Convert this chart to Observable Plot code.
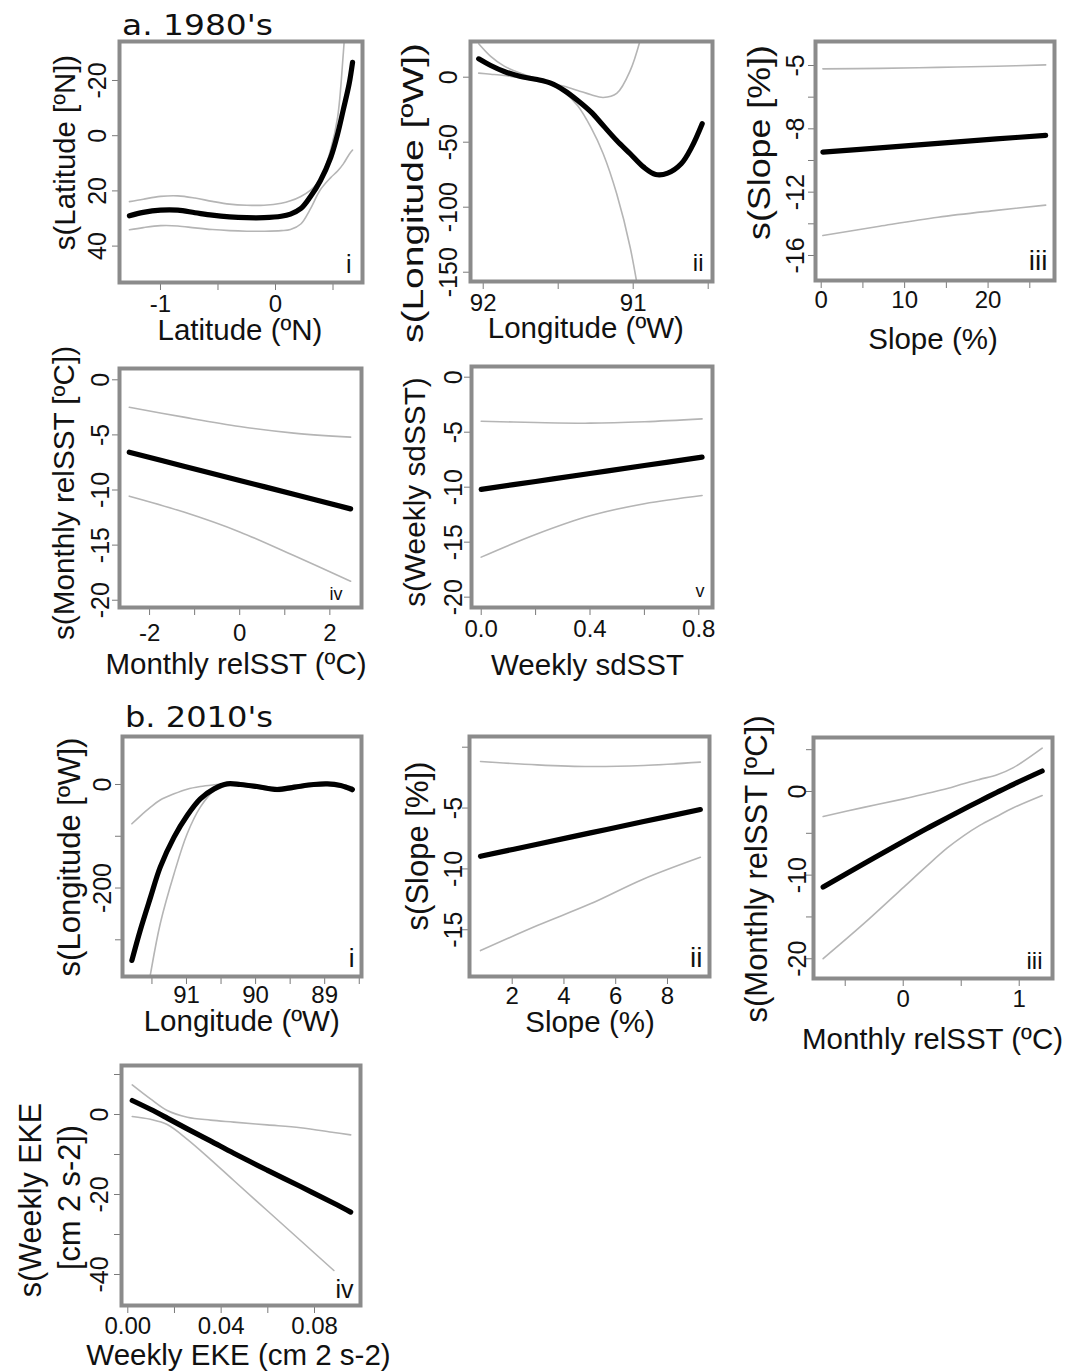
<!DOCTYPE html>
<html>
<head>
<meta charset="utf-8">
<script src="https://cdn.jsdelivr.net/npm/d3@7"></script>
<script src="https://cdn.jsdelivr.net/npm/@observablehq/plot@0.6"></script>
<style>
  html, body { margin: 0; padding: 0; background: #fff; }
  #page { position: relative; width: 1075px; height: 1371px; overflow: hidden; background: #fff; }
  #page svg.panel { position: absolute; overflow: visible; }
  #overlay { position: absolute; left: 0; top: 0; pointer-events: none; }
</style>
</head>
<body>
<div id="page"></div>
<script>
// ---------------- DATA ----------------
// a. 1980's  (i) Latitude
const aiX     = [-1.27, -1.15, -1.0, -0.85, -0.7, -0.55, -0.4, -0.25, -0.1, 0.05, 0.13, 0.22, 0.3, 0.39, 0.48, 0.54, 0.59, 0.64, 0.67];
const aiFit   = [29.0, 27.8, 27.0, 27.0, 27.9, 28.8, 29.4, 29.7, 29.7, 29.2, 28.4, 26.4, 22.3, 16.3, 7.9, -0.6, -9.5, -18.7, -26.6];
const aiBandA = [23.9, 23.0, 22.0, 21.8, 22.6, 23.8, 24.8, 25.2, 25.2, 24.5, 23.6, 22.0, 19.9, 15.8, 5.0, -6.6, -30, -60, null];
const aiBandB = [34.1, 33.3, 32.6, 32.7, 33.4, 34.0, 34.4, 34.6, 34.6, 34.4, 34.0, 32.0, 26.8, 19.6, 15.2, 12.8, 10.2, 6.8, 5.2];
const aiXTicks = [-1, -0.5, 0, 0.5];        const aiXLabels = ["-1", "", "0", ""];
const aiYTicks = [-20, 0, 20, 40];          const aiYLabels = ["-20", "0", "20", "40"];

// a. (ii) Longitude (ºW)
const aiiX     = [92.03, 91.95, 91.86, 91.75, 91.64, 91.55, 91.46, 91.37, 91.28, 91.2, 91.11, 91.02, 90.93, 90.85, 90.77, 90.68, 90.61, 90.54];
const aiiFit   = [14.1, 9.0, 4.4, 0.5, -1.8, -4.6, -10.2, -17.9, -26.9, -37.2, -48.7, -58.9, -69.2, -74.8, -73.8, -66.6, -53.8, -35.8];
const aiiBandA = [25.7, 16.0, 8.5, 3.0, -1.2, -4.6, -11.5, -22.0, -39.0, -58.9, -89.7, -131.0, -190.0, null, null, null, null, null];
const aiiBandB = [3.1, 2.3, 1.3, -0.7, -2.9, -4.8, -7.0, -10.2, -13.5, -15.6, -12.5, 5.0, 38.5, null, null, null, null, null];
const aiiXTicks = [92, 91.5, 91, 90.5];     const aiiXLabels = ["92", "", "91", ""];
const aiiYTicks = [0, -50, -100, -150];     const aiiYLabels = ["0", "-50", "-100", "-150"];

// a. (iii) Slope
const aiiiX     = [0.2, 7, 14, 21, 26.9];
const aiiiFit   = [-9.47, -9.20, -8.92, -8.64, -8.41];
const aiiiBandA = [-4.21, -4.18, -4.12, -4.05, -3.96];
const aiiiBandB = [-14.74, -14.15, -13.58, -13.15, -12.82];
const aiiiXTicks = [0, 5, 10, 15, 20, 25];  const aiiiXLabels = ["0", "", "10", "", "20", ""];
const aiiiYTicks = [-4, -6, -8, -10, -12, -14, -16];
const aiiiYLabels = ["-5", "", "-8", "", "-12", "", "-16"];

// a. (iv) Monthly relSST
const aivX     = [-2.45, -1.24, 0, 1.2, 2.46];
const aivFit   = [-6.57, -7.84, -9.13, -10.39, -11.71];
const aivBandA = [-2.49, -3.39, -4.24, -4.84, -5.2];
const aivBandB = [-10.56, -12.0, -13.8, -15.95, -18.27];
const aivXTicks = [-2, -1, 0, 1, 2];        const aivXLabels = ["-2", "", "0", "", "2"];
const aivYTicks = [0, -5, -10, -15, -20];   const aivYLabels = ["0", "-5", "-10", "-15", "-20"];

// a. (v) Weekly sdSST
const avX     = [0.0, 0.2, 0.4, 0.6, 0.812];
const avFit   = [-10.2, -9.48, -8.76, -8.03, -7.27];
const avBandA = [-4.0, -4.12, -4.18, -4.05, -3.79];
const avBandB = [-16.36, -14.3, -12.6, -11.5, -10.75];
const avXTicks = [0, 0.2, 0.4, 0.6, 0.8];   const avXLabels = ["0.0", "", "0.4", "", "0.8"];
const avYTicks = [0, -5, -10, -15, -20];    const avYLabels = ["0", "-5", "-10", "-15", "-20"];

// b. 2010's  (i) Longitude (ºW)
const biX     = [91.79, 91.67, 91.52, 91.38, 91.18, 90.99, 90.8, 90.6, 90.41, 90.22, 89.98, 89.69, 89.44, 89.16, 88.96, 88.77, 88.6];
const biFit   = [-339.8, -281.9, -217.6, -159.6, -101.7, -59.8, -27.7, -8.4, 1.3, 0, -3.9, -9.7, -5.1, 0, 1.3, -1.9, -9.7];
const biBandA = [-75.9, -61, -43.8, -30, -18, -9, -3.9, -0.5, 2, 3, -1, -6, -2, 3, 4, 1, -5];
const biBandB = [null, -490, -365.5, -268.9, -172.4, -95.2, -43.8, -11.6, -1, -3, -7, -13.5, -8.5, -3, -1.5, -5, -14.5];
const biXTicks = [91.5, 91, 90.5, 90, 89.5, 89, 88.5];  const biXLabels = ["", "91", "", "90", "", "89", ""];
const biYTicks = [0, -100, -200, -300];     const biYLabels = ["0", "", "-200", ""];

// b. (ii) Slope
const biiX     = [0.776, 2.97, 5.02, 7.08, 9.27];
const biiFit   = [-8.96, -7.97, -7.04, -6.11, -5.12];
const biiBandA = [-1.17, -1.45, -1.59, -1.5, -1.23];
const biiBandB = [-16.71, -14.65, -12.87, -10.82, -9.04];
const biiXTicks = [2, 4, 6, 8];             const biiXLabels = ["2", "4", "6", "8"];
const biiYTicks = [0, -5, -10, -15];        const biiYLabels = ["", "-5", "-10", "-15"];

// b. (iii) Monthly relSST
const biiiX     = [-0.69, -0.34, 0.005, 0.2, 0.38, 0.52, 0.66, 0.81, 0.95, 1.198];
const biiiFit   = [-11.43, -8.63, -5.94, -4.46, -3.13, -2.12, -1.13, -0.09, 0.86, 2.45];
const biiiBandA = [-2.99, -1.9, -0.88, -0.25, 0.35, 0.92, 1.45, 2.0, 2.85, 5.18];
const biiiBandB = [-19.99, -15.81, -11.43, -8.95, -6.75, -5.3, -4.05, -2.95, -1.95, -0.48];
const biiiXTicks = [-0.5, 0, 0.5, 1];       const biiiXLabels = ["", "0", "", "1"];
const biiiYTicks = [5, 0, -5, -10, -15, -20]; const biiiYLabels = ["", "0", "", "-10", "", "-20"];

// b. (iv) Weekly EKE
const bivX     = [0.0019, 0.0097, 0.0169, 0.0255, 0.0354, 0.0454, 0.0597, 0.074, 0.0883, 0.0955];
const bivFit   = [3.5, 1.3, -0.9, -3.6, -6.6, -9.7, -13.9, -18.0, -22.2, -24.4];
const bivBandA = [7.4, 3.9, 1.0, -0.67, -1.4, -1.9, -2.6, -3.3, -4.5, -5.1];
const bivBandB = [-0.5, -1.2, -2.5, -6.2, -11.2, -16.5, -24, -31.5, -39, null];
const bivXTicks = [0, 0.02, 0.04, 0.06, 0.08]; const bivXLabels = ["0.00", "", "0.04", "", "0.08"];
const bivYTicks = [10, 0, -10, -20, -30, -40]; const bivYLabels = ["", "0", "", "-20", "", "-40"];

// Texts
const groupTitles = ["a. 1980's", "b. 2010's"];
const panelTags = ["i", "ii", "iii", "iv", "v", "i", "ii", "iii", "iv"];
const xTitles = ["Latitude (ºN)", "Longitude (ºW)", "Slope (%)", "Monthly relSST (ºC)", "Weekly sdSST",
                 "Longitude (ºW)", "Slope (%)", "Monthly relSST (ºC)", "Weekly EKE (cm 2 s-2)"];
const yTitles = [["s(Latitude [ºN])"], ["s(Longitude [ºW])"], ["s(Slope [%])"], ["s(Monthly relSST [ºC])"], ["s(Weekly sdSST)"],
                 ["s(Longitude [ºW])"], ["s(Slope [%])"], ["s(Monthly relSST [ºC])"], ["s(Weekly EKE", "[cm 2 s-2])"]];

// ---------------- LAYOUT (positions / styles) ----------------
const FONT = '"Liberation Sans", Arial, Helvetica, sans-serif';
const panels = [
  {x: aiX, fit: aiFit, a: aiBandA, b: aiBandB, xt: aiXTicks, xl: aiXLabels, yt: aiYTicks, yl: aiYLabels,
   box: [119, 41, 362, 282], xd: [-1.3565, 0.7565], yd: [53.19, -34.13], xoff: 12.5, yoff: 13.5, tag: [11, 10, 25],
   xt_pos: [240, 339.5], yt_pos: [[75, 152.5, 29.4]]},
  {x: aiiX, fit: aiiFit, a: aiiBandA, b: aiiBandB, xt: aiiXTicks, xl: aiiXLabels, yt: aiiYTicks, yl: aiiYLabels,
   box: [470, 41, 712, 281], xd: [92.0847, 90.4713], yd: [-157.15, 27.46], xoff: 12.3, yoff: 14, tag: [9, 11, 24],
   xt_pos: [585.8, 338], yt_pos: [[423, 193, 30, 300]]},
  {x: aiiiX, fit: aiiiFit, a: aiiiBandA, b: aiiiBandB, xt: aiiiXTicks, xl: aiiiXLabels, yt: aiiiYTicks, yl: aiiiYLabels,
   box: [815, 41, 1054, 280], xd: [-0.683, 27.96], yd: [-17.58, -2.484], xoff: 10.5, yoff: 12, tag: [7, 11, 28],
   xt_pos: [933, 348.5], yt_pos: [[770, 142.5, 31, 195]]},
  {x: aivX, fit: aivFit, a: aivBandA, b: aivBandB, xt: aivXTicks, xl: aivXLabels, yt: aivYTicks, yl: aivYLabels,
   box: [119, 368, 361, 607], xd: [-2.667, 2.702], yd: [-20.66, 1.025], xoff: 16, yoff: 11, tag: [19, 8, 18],
   xt_pos: [236, 673.5], yt_pos: [[74, 493, 29.7]]},
  {x: avX, fit: avFit, a: avBandA, b: avBandB, xt: avXTicks, xl: avXLabels, yt: avYTicks, yl: avYLabels,
   box: [471, 366, 712, 607], xd: [-0.0357, 0.8504], yd: [-20.94, 0.973], xoff: 12.5, yoff: 10, tag: [8, 11, 18],
   xt_pos: [587.5, 675], yt_pos: [[425, 492, 29.8]]},
  {x: biX, fit: biFit, a: biBandA, b: biBandB, xt: biXTicks, xl: biXLabels, yt: biYTicks, yl: biYLabels,
   box: [122, 736, 361, 976], xd: [91.926, 88.4675], yd: [-370.9, 92.72], xoff: 9.5, yoff: 12, tag: [7, 10, 26],
   xt_pos: [241.7, 1031], yt_pos: [[80, 857, 31]]},
  {x: biiX, fit: biiFit, a: biiBandA, b: biiBandB, xt: biiXTicks, xl: biiXLabels, yt: biiYTicks, yl: biiYLabels,
   box: [469, 736, 709, 976], xd: [0.35, 9.624], yd: [-18.84, 0.879], xoff: 10.3, yoff: 8, tag: [7, 10, 28],
   xt_pos: [590, 1031.5], yt_pos: [[428, 846, 31]]},
  {x: biiiX, fit: biiiFit, a: biiiBandA, b: biiiBandB, xt: biiiXTicks, xl: biiiXLabels, yt: biiiYTicks, yl: biiiYLabels,
   box: [813, 737, 1052, 978], xd: [-0.7733, 1.287], yd: [-22.36, 6.456], xoff: 11, yoff: 8, tag: [10, 10, 24],
   xt_pos: [932.5, 1049], yt_pos: [[767, 869, 31]]},
  {x: bivX, fit: bivFit, a: bivBandA, b: bivBandB, xt: bivXTicks, xl: bivXLabels, yt: bivYTicks, yl: bivYLabels,
   box: [121, 1065, 360, 1305], xd: [-0.0027, 0.09971], yd: [-47.75, 12.25], xoff: 11.5, yoff: 14, tag: [7, 8, 25],
   xt_pos: [238.5, 1365], yt_pos: [[41, 1200, 30.5], [80, 1197.5, 30.7]]}
];
const titlePos = [[122, 35, 28, 151], [125, 727, 28, 148]];

// ---------------- DRAW ----------------
const page = document.getElementById("page");
const rows = (xs, ys) => xs.map((x, i) => ({x, y: ys[i]}));
const CURVE = "catmull-rom";

panels.forEach((p, k) => {
  const [l, t, r, b] = p.box;
  const ml = 80, mr = 14, mt = 14, mb = 50;
  const xMap = new Map(p.xt.map((v, i) => [v, p.xl[i]]));
  const yMap = new Map(p.yt.map((v, i) => [v, p.yl[i]]));
  const X_TICK = 8, Y_TICK = 7;
  const svg = Plot.plot({
    width: r - l + ml + mr,
    height: b - t + mt + mb,
    marginLeft: ml, marginRight: mr, marginTop: mt, marginBottom: mb,
    x: {type: "linear", domain: p.xd, label: null},
    y: {type: "linear", domain: p.yd, label: null},
    style: {fontFamily: FONT, fontSize: "24px", color: "#111", background: "transparent", overflow: "visible"},
    marks: [
      Plot.line(rows(p.x, p.a), {x: "x", y: "y", stroke: "#b5b5b5", strokeWidth: 1.6, curve: CURVE, clip: true}),
      Plot.line(rows(p.x, p.b), {x: "x", y: "y", stroke: "#b5b5b5", strokeWidth: 1.6, curve: CURVE, clip: true}),
      Plot.line(rows(p.x, p.fit), {x: "x", y: "y", stroke: "#000", strokeWidth: 5.2, curve: CURVE,
        strokeLinecap: "round", strokeLinejoin: "round", clip: true}),
      Plot.axisX({ticks: p.xt, tickFormat: d => xMap.get(d), tickSize: X_TICK,
        tickPadding: Math.max(1, p.xoff - X_TICK), label: null, stroke: "#7a7a7a", fill: "#111"}),
      Plot.axisY({ticks: p.yt, tickFormat: d => yMap.get(d), tickSize: Y_TICK, tickRotate: -90,
        tickPadding: Math.max(1, p.yoff - Y_TICK), label: null, stroke: "#7a7a7a", fill: "#111", fontSize: 25}),
      Plot.text([panelTags[k]], {text: d => d, frameAnchor: "bottom-right", textAnchor: "end", lineAnchor: "bottom",
        dx: -p.tag[0], dy: -p.tag[1], fontSize: p.tag[2], fill: "#111"}),
      Plot.frame({stroke: "#8b8b8b", strokeWidth: 4})
    ]
  });
  svg.classList.add("panel");
  svg.style.left = (l - ml) + "px";
  svg.style.top = (t - mt) + "px";
  page.appendChild(svg);
});

// Overlay texts (titles)
const NS = "http://www.w3.org/2000/svg";
const ov = document.createElementNS(NS, "svg");
ov.setAttribute("id", "overlay");
ov.setAttribute("width", 1075);
ov.setAttribute("height", 1371);
page.appendChild(ov);
function addText(str, x, y, size, opts = {}) {
  const el = document.createElementNS(NS, "text");
  el.textContent = str;
  el.setAttribute("font-family", opts.family || FONT);
  el.setAttribute("font-size", size);
  el.setAttribute("fill", "#111");
  el.setAttribute("text-anchor", opts.anchor || "middle");
  el.setAttribute("transform", `translate(${x},${y})` + (opts.rotate ? ` rotate(${opts.rotate})` : ""));
  if (opts.len) { el.setAttribute("textLength", opts.len); el.setAttribute("lengthAdjust", "spacingAndGlyphs"); }
  ov.appendChild(el);
}
groupTitles.forEach((s, i) => {
  const [x, y, size, len] = titlePos[i];
  addText(s, x, y, size, {anchor: "start", family: '"DejaVu Sans", Verdana, sans-serif', len});
});
panels.forEach((p, k) => {
  addText(xTitles[k], p.xt_pos[0], p.xt_pos[1], 29.5);
  yTitles[k].forEach((s, j) => {
    const [bx, cy, size, len] = p.yt_pos[j];
    addText(s, bx, cy, size, {rotate: -90, len});
  });
});
</script>
</body>
</html>
